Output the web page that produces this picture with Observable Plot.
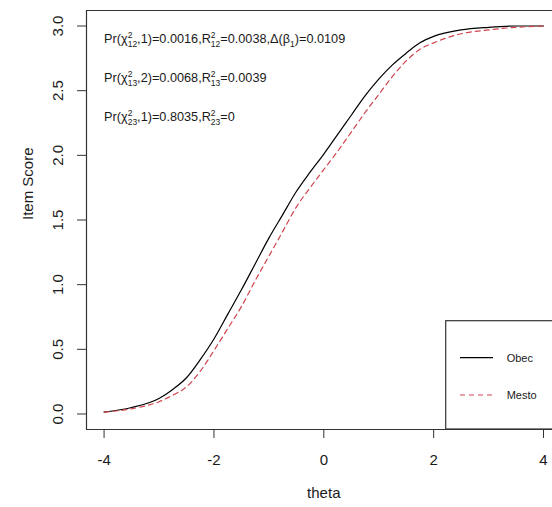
<!DOCTYPE html>
<html><head><meta charset="utf-8">
<script src="https://cdn.jsdelivr.net/npm/d3@7"></script>
<script src="https://cdn.jsdelivr.net/npm/@observablehq/plot@0.6"></script>
<style>
body{margin:0;background:#fff;}
#wrap{position:relative;width:552px;height:507px;overflow:hidden;}
</style></head><body><div id="wrap"></div>
<script>
// ---- data ----
const theta = [-4,-3.5,-3,-2.75,-2.5,-2.25,-2,-1.75,-1.5,-1.25,-1,-0.75,-0.5,-0.25,0,0.25,0.5,0.75,1,1.25,1.5,1.75,2,2.5,3,3.5,4];
const obec  = [0.015,0.05,0.12,0.19,0.28,0.42,0.58,0.77,0.96,1.16,1.36,1.54,1.72,1.87,2.01,2.16,2.31,2.46,2.59,2.70,2.79,2.87,2.92,2.97,2.99,3.0,3.0];
const mesto = [0.015,0.04,0.095,0.145,0.21,0.33,0.49,0.66,0.83,1.03,1.22,1.41,1.60,1.75,1.89,2.03,2.18,2.33,2.47,2.61,2.73,2.82,2.87,2.94,2.97,2.99,3.0];
const seriesNames = ["Obec","Mesto"];
const xTicks = [-4,-2,0,2,4];
const yTicks = [0,0.5,1,1.5,2,2.5,3];
const xLabel = "theta";
const yLabel = "Item Score";
// annotation segments: plain strings, or {sup, sub} stacked scripts
const annotations = [
  ["Pr(χ",{sup:"2",sub:"12"},",1)=0.0016,R",{sup:"2",sub:"12"},"=0.0038,Δ(β",{sub:"1"},")=0.0109"],
  ["Pr(χ",{sup:"2",sub:"13"},",2)=0.0068,R",{sup:"2",sub:"13"},"=0.0039"],
  ["Pr(χ",{sup:"2",sub:"23"},",1)=0.8035,R",{sup:"2",sub:"23"},"=0"]
];

// ---- layout ----
const annotX = -4, annotY = [2.9, 2.6, 2.3];
const xDomain = [-4.32, 4.32], yDomain = [-0.12, 3.12];
const W = 552, H = 507, mL = 86, mT = 10, mB = 78;
const font = "'Liberation Sans', Arial, Helvetica, sans-serif";
const ink = "#1a1a1a";
const colors = ["#000000", "#d0444e"];
const dashes = [null, "5,4"];

const plainText = segs => segs.map(s => typeof s === "string" ? s : (s.sup||"") + (s.sub||"")).join("");

const series = seriesNames.map((name, k) => theta.map((t, i) => ({theta: t, score: (k === 0 ? obec : mesto)[i], name})));

const plot = Plot.plot({
  width: W, height: H,
  marginLeft: mL, marginTop: mT, marginBottom: mB, marginRight: 0,
  style: {fontFamily: font, color: ink, background: "#fff"},
  x: {domain: xDomain, range: [mL, mL + 474.6]},
  y: {domain: yDomain, range: [H - mB, mT]},
  marks: [
    Plot.ruleY([yDomain[0], yDomain[1]], {stroke: "#333", strokeWidth: 1.2}),
    Plot.ruleX([xDomain[0]], {stroke: "#333", strokeWidth: 1.2}),
    Plot.axisX(xTicks, {tickSize: 9, tickPadding: 16, fontSize: 15, label: null, stroke: "#333", fill: ink, tickFormat: d => String(d)}),
    Plot.axisY(yTicks, {tickSize: 9, tickFormat: () => "", label: null, stroke: "#333"}),
    Plot.text(yTicks, {y: d => d, frameAnchor: "left", dx: -28.5, rotate: -90, text: d => d.toFixed(1), fontSize: 15, textAnchor: "middle", lineAnchor: "middle", fill: ink}),
    Plot.text([yLabel], {frameAnchor: "left", dx: -58.5, rotate: -90, text: d => d, fontSize: 15, fill: ink}),
    Plot.text([xLabel], {x: () => (xDomain[0] + xDomain[1]) / 2, frameAnchor: "bottom", dy: 68, text: d => d, fontSize: 15, fill: ink}),
    ...series.map((s, k) => Plot.line(s, {x: "theta", y: "score", stroke: colors[k], strokeWidth: 1.2, strokeDasharray: dashes[k], curve: "monotone-x"})),
    Plot.text(annotations, {x: () => annotX, y: (d, i) => annotY[i], text: plainText, textAnchor: "start", fontSize: 12.7, fill: ink})
  ]
});
document.getElementById("wrap").appendChild(plot);

// ---- rich text for annotations (stacked super/subscripts) ----
const svgNS = "http://www.w3.org/2000/svg";
const plains = annotations.map(plainText);
const scriptSize = 8.5;
plot.querySelectorAll("text").forEach(t => {
  const idx = plains.indexOf(t.textContent);
  if (idx < 0) return;
  const segs = annotations[idx];
  while (t.firstChild) t.removeChild(t.firstChild);
  let pendingDy = 0, pendingDx = 0;
  const add = (str, size) => {
    const ts = document.createElementNS(svgNS, "tspan");
    ts.textContent = str;
    if (size) ts.setAttribute("font-size", size);
    t.appendChild(ts);
    return ts;
  };
  segs.forEach(s => {
    if (typeof s === "string") {
      const ts = add(s);
      if (pendingDy) ts.setAttribute("dy", pendingDy);
      if (pendingDx) ts.setAttribute("dx", pendingDx);
      pendingDy = 0; pendingDx = 0;
    } else {
      let supW = 0;
      let offset = 0;
      if (s.sup) {
        const sp = add(s.sup, scriptSize);
        sp.setAttribute("dy", -5);
        supW = sp.getComputedTextLength();
        offset = -5;
      }
      if (s.sub) {
        const sb = add(s.sub, scriptSize);
        sb.setAttribute("dy", 4 - offset);
        if (supW) sb.setAttribute("dx", -supW);
        const subW = sb.getComputedTextLength();
        offset = 4;
        if (supW > subW) pendingDx = supW - subW;
      }
      pendingDy = -offset;
    }
  });
});

// ---- legend (box anchored to bottom-right of plot region) ----
const svg = d3.select(plot);
const lg = svg.append("g").attr("font-family", font).attr("font-size", 11).attr("fill", ink).attr("text-anchor", "start");
const boxX = 445.7, boxTop = 320.7, boxBottom = H - mB;
lg.append("rect").attr("x", boxX).attr("y", boxTop).attr("width", 200).attr("height", boxBottom - boxTop)
  .attr("fill", "#fff").attr("stroke", "#333").attr("stroke-width", 1.2);
const rowY = [357.7, 395];
seriesNames.forEach((name, k) => {
  lg.append("line").attr("x1", 460).attr("x2", 493).attr("y1", rowY[k]).attr("y2", rowY[k])
    .attr("stroke", colors[k]).attr("stroke-width", 1.2).attr("stroke-dasharray", dashes[k]);
  lg.append("text").attr("x", 506.7).attr("y", rowY[k]).attr("dy", "0.35em").attr("text-anchor", "start").text(name);
});
</script>
</body></html>
